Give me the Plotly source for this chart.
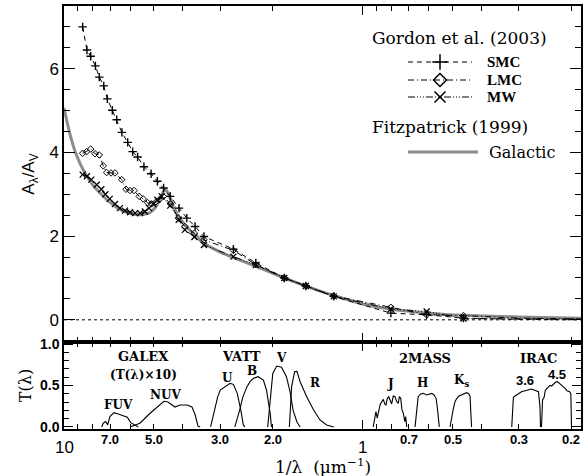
import math
import plotly.graph_objects as go

# ---------------- data: extinction curves (top panel) ----------------
smc_x = [8.66, 8.38, 8.14, 7.85, 7.62, 7.36, 7.16, 6.89, 6.66, 6.40, 6.12, 5.89, 5.67, 5.40, 5.11,
         4.87, 4.64, 4.41, 4.12, 3.88, 3.64, 3.40, 2.71, 2.28, 1.83, 1.55, 1.25, 0.805, 0.611, 0.46]
smc_y = [7.00, 6.45, 6.30, 6.07, 5.80, 5.59, 5.28, 5.01, 4.78, 4.48, 4.24, 4.02, 3.89, 3.66, 3.49,
         3.31, 3.15, 2.95, 2.67, 2.43, 2.23, 1.99, 1.69, 1.36, 1.00, 0.81, 0.56, 0.16, 0.12, 0.04]
lmc_x = [8.66, 8.40, 8.14, 7.87, 7.62, 7.39, 7.20, 6.96, 6.75, 6.41, 6.20, 6.01, 5.83, 5.60, 5.43,
         5.25, 5.09, 4.92, 4.80, 4.65, 4.40, 4.14, 3.94, 3.66, 3.40, 2.71, 2.28, 1.83, 1.55, 1.25,
         0.805, 0.611, 0.46]
lmc_y = [3.98, 4.02, 4.08, 3.97, 3.94, 3.68, 3.52, 3.51, 3.51, 3.35, 3.12, 3.09, 3.09, 2.95, 2.89,
         2.80, 2.77, 2.82, 2.87, 2.95, 2.77, 2.43, 2.23, 2.07, 1.91, 1.66, 1.32, 1.00, 0.81, 0.57,
         0.30, 0.12, 0.10]
mw_x = [8.66, 8.38, 8.10, 7.77, 7.50, 7.27, 7.03, 6.75, 6.50, 6.25, 6.01, 5.78, 5.56, 5.36, 5.19,
        5.03, 4.87, 4.71, 4.41, 4.13, 3.94, 3.66, 3.40, 2.71, 2.28, 1.83, 1.55, 1.25, 0.805, 0.611, 0.46]
mw_y = [3.47, 3.43, 3.35, 3.23, 3.12, 3.00, 2.89, 2.77, 2.67, 2.61, 2.57, 2.55, 2.55, 2.59, 2.67,
        2.77, 2.87, 2.95, 2.73, 2.39, 2.15, 1.98, 1.79, 1.51, 1.31, 1.00, 0.81, 0.56, 0.26, 0.20, 0.03]
# line extension toward the mid-IR (no measured points)
ext_x = [0.30, 0.186]
smc_ext = [0.01, 0.0]
lmc_ext = [0.04, 0.02]
mw_ext = [0.03, 0.02]

f99_x = [10, 9.6, 9.1, 8.5, 8.0, 7.5, 7.0, 6.5, 6.0, 5.6, 5.2, 4.95, 4.8, 4.7, 4.6, 4.5, 4.35, 4.2,
         4.0, 3.7, 3.4, 3.0, 2.7, 2.3, 1.83, 1.5, 1.25, 1.0, 0.8, 0.6, 0.46, 0.3, 0.186]
f99_y = [5.06, 4.50, 3.95, 3.50, 3.22, 3.00, 2.80, 2.64, 2.54, 2.51, 2.55, 2.68, 2.85, 3.00, 3.12,
         3.05, 2.80, 2.55, 2.33, 2.07, 1.83, 1.62, 1.48, 1.29, 1.00, 0.77, 0.58, 0.38, 0.25, 0.16,
         0.11, 0.07, 0.04]

# ---------------- data: filter transmission curves (bottom panel) ----------------
fuv_x = [7.48, 7.39, 7.25, 7.14, 7.02, 6.80, 6.58, 6.36, 6.14, 5.98, 5.78, 5.64]
fuv_t = [0, 0.0045, 0.0065, 0.0025, 0.0124, 0.0172, 0.0157, 0.0133, 0.0117, 0.0052, 0.0020, 0]
nuv_x = [6.01, 5.57, 5.15, 4.96, 4.77, 4.63, 4.49, 4.25, 4.09, 3.87, 3.73, 3.64, 3.56, 3.50]
nuv_t = [0, 0.0045, 0.0165, 0.022, 0.0265, 0.031, 0.030, 0.024, 0.0265, 0.0265, 0.024, 0.015, 0.001, 0]
galex_scale = 10
u_x = [3.23, 3.17, 3.12, 3.06, 3.00, 2.91, 2.78, 2.71, 2.63, 2.56, 2.51, 2.48]
u_t = [0, 0.12, 0.245, 0.36, 0.445, 0.478, 0.526, 0.514, 0.405, 0.205, 0.024, 0]
b_x = [2.68, 2.62, 2.58, 2.52, 2.44, 2.38, 2.32, 2.24, 2.15, 2.10, 2.07, 2.04, 2.02]
b_t = [0, 0.12, 0.205, 0.36, 0.486, 0.55, 0.587, 0.606, 0.566, 0.446, 0.32, 0.16, 0]
v_x = [2.08, 2.04, 2.00, 1.94, 1.87, 1.80, 1.75, 1.71, 1.66, 1.62]
v_t = [0, 0.365, 0.646, 0.735, 0.72, 0.606, 0.42, 0.2, 0.06, 0]
r_x = [1.76, 1.73, 1.69, 1.66, 1.62, 1.54, 1.46, 1.39, 1.32, 1.25]
r_t = [0, 0.486, 0.666, 0.67, 0.546, 0.365, 0.205, 0.084, 0.024, 0]
j_x = [0.922, 0.909, 0.903, 0.894, 0.884, 0.875, 0.864, 0.853, 0.844, 0.836, 0.827, 0.818, 0.810,
       0.800, 0.790, 0.780, 0.769, 0.760, 0.754, 0.746, 0.739, 0.731, 0.723, 0.718, 0.712]
j_t = [0, 0.105, 0.185, 0.105, 0.205, 0.265, 0.305, 0.333, 0.277, 0.265, 0.345, 0.365, 0.325,
       0.277, 0.373, 0.365, 0.305, 0.285, 0.365, 0.345, 0.205, 0.165, 0.064, 0.124, 0]
h_x = [0.668, 0.660, 0.652, 0.640, 0.627, 0.611, 0.598, 0.587, 0.577, 0.568, 0.563, 0.558, 0.554]
h_t = [0, 0.205, 0.365, 0.398, 0.405, 0.386, 0.394, 0.405, 0.386, 0.345, 0.245, 0.084, 0]
ks_x = [0.510, 0.504, 0.497, 0.491, 0.484, 0.476, 0.466, 0.458, 0.449, 0.441, 0.437, 0.435, 0.432]
ks_t = [0, 0.124, 0.225, 0.305, 0.345, 0.373, 0.386, 0.405, 0.414, 0.398, 0.365, 0.205, 0]
i36_x = [0.317, 0.313, 0.309, 0.305, 0.299, 0.294, 0.288, 0.282, 0.277, 0.272, 0.267, 0.262,
         0.258, 0.255, 0.254]
i36_t = [0, 0.358, 0.373, 0.386, 0.406, 0.425, 0.434, 0.446, 0.454, 0.458, 0.446, 0.437, 0.425,
         0.245, 0]
i45_x = [0.252, 0.250, 0.247, 0.245, 0.242, 0.239, 0.236, 0.233, 0.230, 0.226, 0.223, 0.220,
         0.216, 0.213, 0.210, 0.207, 0.203, 0.201, 0.200]
i45_t = [0, 0.325, 0.358, 0.437, 0.461, 0.486, 0.502, 0.494, 0.518, 0.542, 0.546, 0.527, 0.506,
         0.494, 0.466, 0.437, 0.425, 0.398, 0]

# tick labels
major_ticks = [10, 1]
minor_label_vals = [7.0, 5.0, 3.0, 2.0, 0.7, 0.5, 0.3, 0.2]
minor_label_text = ["7.0", "5.0", "3.0", "2.0", "0.7", "0.5", "0.3", "0.2"]
minor_tick_vals = [9, 8, 7, 6, 5, 4, 3, 2, 0.9, 0.8, 0.7, 0.6, 0.5, 0.4, 0.3, 0.2]

# ---------------- figure ----------------
W, H = 586, 476
ML, MR, MT, MB = 64, 5, 6, 47
plot_h = H - MT - MB
split = (429 - 342) / plot_h
XR = [1, -0.7308]

SERIF = "DejaVu Serif"
TIMES = "Liberation Serif"
SANS = "Liberation Sans"

fig = go.Figure()

smc_dash = "5px,4px"
lmc_dash = "6px,3px,1px,3px"
mw_dash = "7px,2px,1px,2px,1px,2px,1px,2px"

# Fitzpatrick
fig.add_trace(go.Scatter(x=f99_x, y=f99_y, mode="lines",
                         line=dict(color="#8c8c8c", width=3, shape="spline", smoothing=0.5),
                         xaxis="x", yaxis="y", showlegend=False))
# series lines
fig.add_trace(go.Scatter(x=smc_x + ext_x, y=smc_y + smc_ext, mode="lines",
                         line=dict(color="black", width=1, dash=smc_dash), showlegend=False))
fig.add_trace(go.Scatter(x=lmc_x + ext_x, y=lmc_y + lmc_ext, mode="lines",
                         line=dict(color="black", width=1, dash=lmc_dash), showlegend=False))
fig.add_trace(go.Scatter(x=mw_x + ext_x, y=mw_y + mw_ext, mode="lines",
                         line=dict(color="black", width=1, dash=mw_dash), showlegend=False))
# markers
fig.add_trace(go.Scatter(x=smc_x, y=smc_y, mode="markers",
                         marker=dict(symbol="cross-thin", size=6, line=dict(color="black", width=1.4)),
                         showlegend=False))
fig.add_trace(go.Scatter(x=lmc_x, y=lmc_y, mode="markers",
                         marker=dict(symbol="diamond-open", size=5, color="black", line=dict(width=1)),
                         showlegend=False))
fig.add_trace(go.Scatter(x=mw_x, y=mw_y, mode="markers",
                         marker=dict(symbol="x-thin", size=6, line=dict(color="black", width=1.3)),
                         showlegend=False))

# filters
filters = [(fuv_x, [t * galex_scale for t in fuv_t]), (nuv_x, [t * galex_scale for t in nuv_t]),
           (u_x, u_t), (b_x, b_t), (v_x, v_t), (r_x, r_t), (j_x, j_t), (h_x, h_t), (ks_x, ks_t),
           (i36_x, i36_t), (i45_x, i45_t)]
for fx, ft in filters:
    fig.add_trace(go.Scatter(x=fx, y=ft, mode="lines", line=dict(color="black", width=1.1),
                             xaxis="x2", yaxis="y2", showlegend=False))

# legend keys (own overlay axes in pixel units)
leg_rows = [(62, smc_dash, "cross-thin", 11, "SMC"), (80, lmc_dash, "diamond-open", 10, "LMC"),
            (97, mw_dash, "x-thin", 11, "MW")]
for yy, dsh, sym, sz, name in leg_rows:
    fig.add_trace(go.Scatter(x=[408, 472], y=[yy, yy], mode="lines",
                             line=dict(color="black", width=1, dash=dsh),
                             xaxis="x3", yaxis="y3", showlegend=False, hoverinfo="skip"))
    fig.add_trace(go.Scatter(x=[440], y=[yy], mode="markers",
                             marker=dict(symbol=sym, size=sz, color="black", line=dict(color="black", width=1.5)),
                             xaxis="x3", yaxis="y3", showlegend=False, hoverinfo="skip"))
fig.add_trace(go.Scatter(x=[408, 478], y=[152, 152], mode="lines", line=dict(color="#8c8c8c", width=3),
                         xaxis="x3", yaxis="y3", showlegend=False, hoverinfo="skip"))

frame = dict(showline=True, linecolor="black", linewidth=1.5, mirror="ticks", automargin=False)
xcommon = dict(type="log", range=XR, tickvals=major_ticks, ticks="inside", ticklen=9, tickwidth=1.2,
               tickcolor="black", showticklabels=False, showgrid=False, zeroline=False,
               minor=dict(tickvals=minor_tick_vals, ticks="inside", ticklen=5, tickwidth=1.2, tickcolor="black",
                          showgrid=False), **frame)

fig.update_layout(
    width=W, height=H, margin=dict(l=ML, r=MR, t=MT, b=MB, autoexpand=False),
    paper_bgcolor="white", plot_bgcolor="white",
    xaxis=dict(domain=[0, 1], anchor="y", **xcommon),
    yaxis=dict(domain=[split, 1], anchor="x", range=[-0.53, 7.5], tickvals=[0, 2, 4, 6], ticks="inside",
               ticklen=11, tickwidth=1.2, tickcolor="black", showgrid=False, zeroline=False,
               tickfont=dict(family=SANS, size=17, color="black"),
               minor=dict(dtick=0.5, ticks="inside", ticklen=6, tickwidth=1.2, tickcolor="black", showgrid=False),
               title=dict(text="A<sub>λ</sub>/A<sub>V</sub>", font=dict(family=SANS, size=17, color="black"),
                          standoff=10),
               **frame),
    xaxis2=dict(domain=[0, 1], anchor="y2", **xcommon),
    yaxis2=dict(domain=[0, split], anchor="x2", range=[-0.025, 1.025], tickvals=[0, 0.5, 1.0],
                ticktext=["0.0", "0.5", "1.0"], ticks="inside", ticklen=9, tickwidth=1.2, tickcolor="black",
                showgrid=False, zeroline=False,
                tickfont=dict(family=SANS, size=14, color="black", weight="bold"),
                minor=dict(dtick=0.1, ticks="inside", ticklen=5, tickwidth=1.2, tickcolor="black", showgrid=False),
                title=dict(text="T(λ)", font=dict(family=SERIF, size=16, color="black"), standoff=4),
                **frame),
    xaxis3=dict(domain=[0, 1], anchor="y3", range=[ML, W - MR], visible=False, overlaying="x"),
    yaxis3=dict(domain=[split, 1], anchor="x3", range=[342, 6], visible=False, overlaying="y"),
    showlegend=False,
)

# zero line
fig.add_shape(type="line", xref="x domain", x0=0, x1=1, yref="y", y0=0, y1=0,
              line=dict(color="black", width=1, dash="dot"))

ann = []
# x tick labels
for v, t in zip(minor_label_vals, minor_label_text):
    ann.append(dict(x=math.log10(v), y=(429 - 440) / plot_h, xref="x2", yref="paper", text=t, showarrow=False,
                    font=dict(family=SANS, size=13, color="black", weight="bold"),
                    xanchor="center", yanchor="middle"))
for v in major_ticks:
    ann.append(dict(x=math.log10(v), y=(429 - 447) / plot_h, xref="x2", yref="paper", text=str(v),
                    showarrow=False, font=dict(family=SANS, size=17, color="black"),
                    xanchor="center", yanchor="middle"))
# x axis title
ann.append(dict(x=0.5, y=(429 - 466) / plot_h, xref="paper", yref="paper",
                text="1/λ  (μm<sup>−1</sup>)", showarrow=False,
                font=dict(family=SERIF, size=17, color="black"), xanchor="center", yanchor="middle"))

# filter labels (x in data units, y in T units)
flabels = [("GALEX", 5.43, 0.855, SERIF, 13), ("(T(λ)×10)", 5.43, 0.627, SERIF, 12),
           ("FUV", 6.55, 0.265, SERIF, 12), ("NUV", 4.57, 0.386, SERIF, 12),
           ("VATT", 2.54, 0.855, SERIF, 13), ("U", 2.83, 0.587, SERIF, 12), ("B", 2.34, 0.678, SERIF, 12),
           ("V", 1.87, 0.835, SERIF, 12), ("R", 1.44, 0.527, SERIF, 12),
           ("2MASS", 0.619, 0.828, SERIF, 13), ("J", 0.806, 0.514, SERIF, 12), ("H", 0.630, 0.527, SERIF, 12),
           ("K<sub>s</sub>", 0.466, 0.56, SERIF, 12),
           ("IRAC", 0.258, 0.828, SERIF, 13), ("3.6", 0.286, 0.566, SANS, 13), ("4.5", 0.224, 0.627, SANS, 13)]
for t, xv, yv, fam, sz in flabels:
    ann.append(dict(x=math.log10(xv), y=yv, xref="x2", yref="y2", text=t, showarrow=False,
                    font=dict(family=fam, size=sz, color="black", weight="bold"),
                    xanchor="center", yanchor="middle"))

# legend text
ann.append(dict(x=370, y=38, xref="x3", yref="y3", text="Gordon et al. (2003)", showarrow=False,
                font=dict(family=SERIF, size=17, color="black"), xanchor="left", yanchor="middle"))
for yy, dsh, sym, sz, name in leg_rows:
    ann.append(dict(x=485, y=yy, xref="x3", yref="y3", text=name, showarrow=False,
                    font=dict(family=TIMES, size=15, color="black", weight="bold"),
                    xanchor="left", yanchor="middle"))
ann.append(dict(x=370, y=127, xref="x3", yref="y3", text="Fitzpatrick (1999)", showarrow=False,
                font=dict(family=SERIF, size=17, color="black"), xanchor="left", yanchor="middle"))
ann.append(dict(x=487, y=152, xref="x3", yref="y3", text="Galactic", showarrow=False,
                font=dict(family=SERIF, size=16, color="black"), xanchor="left", yanchor="middle"))

fig.update_layout(annotations=ann)
fig.write_html("out.html", config={"displayModeBar": False},
               post_script="document.body.style.margin='0px';")
